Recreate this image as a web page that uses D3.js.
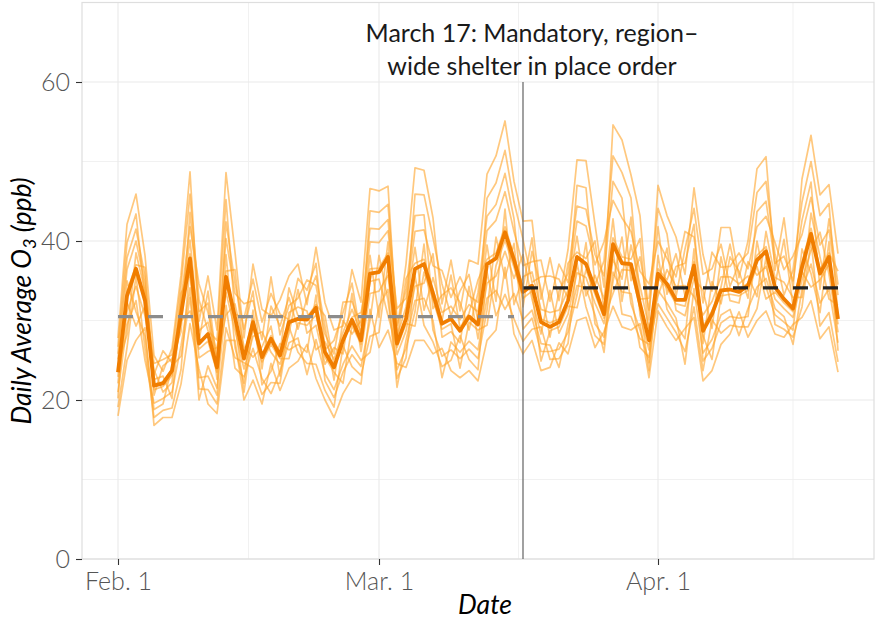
<!DOCTYPE html>
<html><head><meta charset="utf-8">
<script src="https://cdn.jsdelivr.net/npm/d3@7"></script>
<style>
html,body{margin:0;padding:0;background:#fff;}
svg{display:block;font-family:Lato,"Open Sans",sans-serif;}
</style></head>
<body><svg id="chart" width="886" height="634"></svg>
<script>
// ---------------- DATA ----------------
const startDate = "2020-02-01";           // first day of the series (81 daily values)
const tickDates = ["2020-02-01","2020-03-01","2020-04-01"];
const tickLabels = ["Feb. 1","Mar. 1","Apr. 1"];
const minorDates = ["2020-02-15T12:00","2020-03-16T12:00","2020-04-16T00:00"];
const yTicks = [0,20,40,60];
const yMinor = [10,30,50,70];
const orderDate = "2020-03-17";
const annotation = ["March 17: Mandatory, region\u2013","wide shelter in place order"];
const preMean = 30.5, postMean = 34.1;
const preRange = ["2020-02-01","2020-03-16"];
const postRange = ["2020-03-17","2020-04-21"];

// regional daily mean (thick line)
const meanO3 = [23.5,33.1,36.5,32.5,21.8,22.1,23.7,30.8,37.8,27.1,28.3,24.1,35.5,30.4,25.2,29.8,25.4,27.7,25.6,29.8,30.2,30.1,31.6,26.0,24.1,27.5,30.1,27.5,35.9,36.1,38.0,27.1,30.2,36.5,37.1,33.4,29.6,30.2,28.7,30.5,29.5,37.1,37.8,41.1,37.6,33.6,34.4,29.8,29.2,29.8,32.5,38.0,37.1,34.0,30.8,39.6,37.2,37.1,32.1,27.5,35.9,34.6,32.6,32.6,36.9,28.7,30.8,33.8,33.9,33.6,34.4,37.6,38.7,34.2,32.7,31.5,36.7,40.9,35.9,38.0,30.2];

// individual monitoring stations (thin lines)
const st01 = [27.8,42.1,45.9,38.2,25.6,23.6,26.5,35.7,48.7,29.9, 35.6,28.8,48.6,38.6,27.8,37.1,31.4,30.6,32.6,35.6, 37.1,32.0,39.2,32.2,28.8,29.3,36.4,32.3,46.6,46.3, 46.9,28.7,37.1,49.2,48.9,42.9,32.1,37.6,31.2,37.6, 37.1,48.4,50.7,55.1,47.5,42.5,42.6,32.7,37.9,32.5, 38.9,50.2,50.1,42.1,34.2,54.6,52.7,48.3,43.2,30.1, 47.0,43.2,40.5,35.8,46.7,38.3,33.7,41.7,41.7,35.4, 40.0,49.1,50.6,36.3,42.9,33.9,47.8,53.3,45.8,47.1,38.4];
const st02 = [26.7,39.8,43.4,32.8,24.6,25.1,25.7,34.4,45.9,32.6, 28.7,27.5,45.2,30.8,30.3,35.2,29.8,33.4,30.8,30.1, 35.3,33.8,37.2,26.3,27.5,31.0,34.7,27.8,43.8,43.6, 44.6,30.3,30.6,45.9,45.8,40.4,34.6,30.6,33.7,35.8, 29.9,45.4,47.3,51.4,44.9,40.2,34.8,35.5,35.6,35.2, 32.8,47.0,46.7,34.4,37.5,50.7,48.6,45.4,32.7,32.8, 44.1,40.9,33.0,39.0,44.1,35.8,36.5,39.6,34.3,37.2, 38.5,46.1,47.5,38.3,33.2,36.3,44.9,50.0,43.2,44.7,30.6];
const st03 = [25.8,37.9,41.5,35.5,20.6,24.3,25.2,28.6,43.6,31.1, 32.2,22.6,42.4,34.7,28.9,33.7,23.9,31.8,29.3,32.9, 28.9,32.8,35.6,29.3,22.5,30.0,28.3,30.0,41.6,41.5, 42.7,29.4,33.9,43.2,43.3,31.5,33.2,34.1,32.3,28.8, 33.5,43.1,44.6,48.5,42.8,31.7,38.7,33.9,27.9,33.7, 35.9,44.4,44.0,38.3,35.6,47.5,45.4,35.0,38.0,31.3, 41.8,33.3,36.8,37.2,42.1,27.1,34.9,32.1,38.0,36.2, 32.8,43.7,45.0,37.2,38.1,35.0,42.6,47.4,33.9,42.8,34.5];
const st04 = [25.1,36.4,40.0,34.6,23.2,26.2,24.7,32.6,41.8,34.6, 31.0,25.8,40.3,33.4,32.1,32.5,27.6,35.5,28.2,31.9, 32.8,35.1,34.4,28.3,25.8,32.3,32.4,29.3,39.9,39.8, 41.3,31.5,32.8,41.2,41.4,36.9,36.3,32.9,35.5,33.1, 32.3,41.3,42.6,46.2,41.2,36.9,37.4,37.6,32.4,37.1, 34.8,42.5,41.9,37.0,39.9,45.1,42.9,41.2,36.2,34.6, 40.0,37.8,35.5,41.2,40.5,32.2,38.6,36.7,36.8,38.5, 36.5,41.8,43.1,39.8,36.4,38.1,40.8,45.5,39.5,41.4,33.2];
const st05 = [24.4,28.2,38.5,33.7,22.6,23.0,20.2,31.8,40.1,28.7, 29.8,25.1,30.7,32.1,26.7,25.4,26.7,29.3,23.0,31.0, 31.7,31.2,26.3,27.3,25.1,28.5,31.4,28.5,38.2,30.4, 39.9,28.0,31.7,39.2,31.3,35.4,31.0,31.8,30.1,32.0, 31.1,39.5,32.4,44.0,32.0,35.5,36.1,31.4,31.0,31.3, 33.8,40.6,33.1,35.7,32.7,42.8,32.4,39.5,34.4,29.0, 33.1,36.4,34.3,34.4,33.0,30.7,32.4,35.5,35.5,34.6, 35.6,33.0,41.2,35.4,34.8,32.9,32.9,43.5,38.0,32.7,31.9];
const st06 = [23.7,33.6,37.0,36.7,22.0,22.3,23.8,31.1,38.4,27.5, 33.7,24.3,36.2,36.4,25.6,30.2,25.7,28.1,26.0,34.1, 30.6,30.4,32.0,30.6,24.3,27.8,30.4,31.0,36.5,36.6, 38.5,27.3,35.3,37.2,37.7,33.9,30.0,35.7,29.1,30.9, 35.1,37.7,38.5,41.8,38.1,34.1,40.4,30.2,29.7,30.2, 37.2,38.6,37.8,40.0,31.3,40.4,38.0,37.7,40.3,27.9, 36.5,35.1,38.4,33.1,37.4,29.2,31.2,34.2,39.6,33.9, 34.7,38.2,39.3,34.5,40.2,31.8,37.3,41.6,36.4,38.5,36.2];
const st07 = [22.9,32.3,29.3,31.8,21.3,21.7,23.1,29.9,31.2,26.4, 27.4,23.5,34.7,29.8,21.0,29.1,24.8,27.0,25.2,25.2, 29.7,29.4,30.7,25.4,23.5,22.1,29.4,27.0,34.9,35.2, 30.6,26.6,29.6,29.3,36.1,32.6,28.9,29.6,24.0,29.8, 28.8,29.4,36.9,40.1,36.7,32.8,33.7,24.9,28.7,29.2, 31.8,31.6,36.4,33.3,30.3,33.4,36.4,36.3,31.6,23.7, 35.4,34.1,32.1,31.8,36.3,28.1,25.1,33.1,33.3,33.1, 33.8,36.8,32.7,33.6,32.2,31.1,36.1,34.2,35.1,37.1,29.5];
const st08 = [22.1,31.1,34.3,30.6,23.8,21.0,22.2,33.4,35.8,25.3, 26.1,26.6,33.5,28.8,23.9,28.0,28.6,26.0,24.5,28.4, 33.9,28.4,29.4,24.5,26.6,25.8,33.4,26.1,33.4,33.7, 35.7,25.7,28.7,34.3,34.7,38.4,27.9,28.6,27.2,34.3, 27.7,34.7,35.6,38.7,35.3,38.3,32.7,28.3,33.8,28.4, 30.8,36.0,35.4,32.2,29.6,37.7,35.2,43.0,30.7,26.3, 34.7,39.1,31.3,30.6,35.3,33.8,29.0,38.0,32.5,32.2, 37.4,35.7,36.8,32.7,31.5,30.4,35.1,38.8,41.1,35.8,28.5];
const st09 = [21.0,29.5,32.5,25.0,19.6,20.2,21.0,26.8,34.1,20.0, 24.3,21.5,31.9,24.0,22.9,26.5,22.7,20.8,23.6,27.2, 27.8,23.2,27.6,23.3,21.3,24.5,26.8,25.0,26.0,31.8, 33.9,21.6,27.5,32.5,32.8,30.0,22.8,27.3,26.0,27.4, 26.3,32.8,33.8,31.4,33.4,30.1,31.3,27.1,26.9,24.1, 29.5,34.4,34.1,30.7,26.0,36.1,33.6,33.4,26.6,25.4, 33.8,32.2,30.3,24.5,34.0,25.9,27.6,30.7,31.4,28.1, 31.5,34.2,35.3,31.5,30.5,27.0,33.9,37.1,32.2,34.0,27.2];
const st10 = [20.2,35.0,31.1,28.0,18.8,19.5,24.3,25.5,32.9,22.8, 23.0,20.6,38.3,26.6,22.1,31.3,21.9,23.6,27.1,26.3, 27.0,26.0,33.2,22.4,20.3,23.5,25.7,24.2,30.0,38.2, 32.5,23.8,26.5,31.1,39.6,28.8,25.5,26.3,25.2,26.4, 25.2,31.3,40.5,35.3,39.7,28.9,30.3,26.1,26.1,26.4, 28.5,33.2,39.8,29.6,27.9,34.9,40.5,32.1,28.8,24.7, 38.2,31.4,29.5,27.7,39.0,24.9,26.5,29.7,30.5,30.3, 30.5,40.0,34.2,30.7,29.8,28.8,39.0,35.9,31.0,39.9,26.2];
const st11 = [19.1,26.6,35.6,26.5,17.8,18.7,19.0,23.8,37.0,21.4, 21.3,19.5,29.1,25.3,24.7,24.0,20.7,22.2,22.1,29.2, 26.0,24.6,24.5,21.2,19.1,26.8,24.2,23.1,28.0,28.5, 37.1,22.7,25.3,35.6,29.4,27.3,24.2,25.0,28.1,25.1, 23.8,36.1,30.6,33.3,30.2,27.4,28.9,29.2,25.1,25.2, 27.1,37.2,31.7,28.1,27.0,38.8,30.8,30.5,27.7,27.0, 32.1,30.3,28.5,26.1,31.7,23.7,30.1,28.4,29.4,29.2, 29.2,31.5,37.9,29.5,28.9,27.9,31.7,40.1,29.3,31.0,24.8];
const st12 = [18.0,25.0,27.5,29.1,16.8,17.8,17.8,22.0,29.6,23.9, 19.5,18.3,27.5,27.5,20.0,22.5,19.5,24.6,21.2,24.0, 24.9,27.0,22.7,20.0,17.8,20.8,22.7,22.0,31.4,26.6, 28.8,24.6,24.1,27.5,27.5,25.8,26.5,23.7,22.8,23.7, 22.4,27.5,28.8,36.7,28.3,25.8,27.5,23.7,24.1,27.2, 25.8,30.0,30.4,26.6,28.6,31.8,29.2,28.8,29.6,22.8, 31.2,29.2,27.5,29.0,30.4,22.4,23.7,27.0,28.3,31.1, 27.9,30.0,31.2,28.3,27.9,29.5,30.4,32.5,27.7,29.2,23.5];
const stations = [st01,st02,st03,st04,st05,st06,st07,st08,st09,st10,st11,st12];

// ---------------- CHART ----------------
const parse = s => new Date(s.length > 10 ? s : s + "T00:00");
const t0 = parse(startDate);
const dateOf = i => d3.timeDay.offset(t0, i);

const svg = d3.select("#chart");
const L = 82, R = 874, T = 2.5, B = 559;
const x = d3.scaleTime().domain([parse("2020-01-28"), parse("2020-04-25")]).range([L, R]);
const y = d3.scaleLinear().domain([0, 70]).range([B, T]);

// grid
const g = svg.append("g");
g.selectAll(".ymin").data(yMinor).join("line")
  .attr("x1", L).attr("x2", R).attr("y1", d => y(d)).attr("y2", d => y(d))
  .attr("stroke", "#efefef").attr("stroke-width", 0.9);
g.selectAll(".xmin").data(minorDates.map(parse)).join("line")
  .attr("x1", d => x(d)).attr("x2", d => x(d)).attr("y1", T).attr("y2", B)
  .attr("stroke", "#efefef").attr("stroke-width", 0.9);
g.selectAll(".ymaj").data(yTicks).join("line")
  .attr("x1", L).attr("x2", R).attr("y1", d => y(d)).attr("y2", d => y(d))
  .attr("stroke", "#e9e9e9").attr("stroke-width", 1.1);
g.selectAll(".xmaj").data(tickDates.map(parse)).join("line")
  .attr("x1", d => x(d)).attr("x2", d => x(d)).attr("y1", T).attr("y2", B)
  .attr("stroke", "#e9e9e9").attr("stroke-width", 1.1);
// panel border
svg.append("rect").attr("x", L).attr("y", T).attr("width", R - L).attr("height", B - T)
  .attr("fill", "none").attr("stroke", "#dedede").attr("stroke-width", 1.2);

// axes
const xAxis = d3.axisBottom(x).tickValues(tickDates.map(parse))
  .tickFormat((d, i) => tickLabels[i]).tickSize(6).tickPadding(7);
const gx = svg.append("g").attr("transform", `translate(0,${B})`).call(xAxis);
const yAxis = d3.axisLeft(y).tickValues(yTicks).tickSize(6).tickPadding(6);
const gy = svg.append("g").attr("transform", `translate(${L},0)`).call(yAxis);
[gx, gy].forEach(a => {
  a.select(".domain").remove();
  a.selectAll(".tick line").attr("stroke", "#333").attr("stroke-width", 1.1);
  a.selectAll(".tick text").attr("fill", "#555").style("font-size", "25px")
    .style("font-weight", 300).style("font-family", "Lato, sans-serif");
});

// station lines
const line = d3.line().x((d, i) => x(dateOf(i))).y(d => y(d));
svg.append("g").selectAll("path").data(stations).join("path")
  .attr("d", line).attr("fill", "none")
  .attr("stroke", "#ffa428").attr("stroke-opacity", 0.6).attr("stroke-width", 1.7)
  .attr("stroke-linejoin", "round");

// mean line
svg.append("path").datum(meanO3).attr("d", line).attr("fill", "none")
  .attr("stroke", "#f07d00").attr("stroke-width", 3.8).attr("stroke-linejoin", "round");

// period means (dashed)
svg.append("line").attr("x1", x(parse(preRange[0]))).attr("x2", x(parse(preRange[1])))
  .attr("y1", y(preMean)).attr("y2", y(preMean))
  .attr("stroke", "#8c8c8c").attr("stroke-width", 3.3).attr("stroke-dasharray", "15,15");
svg.append("line").attr("x1", x(parse(postRange[0]))).attr("x2", x(parse(postRange[1])))
  .attr("y1", y(postMean)).attr("y2", y(postMean))
  .attr("stroke", "#222").attr("stroke-width", 3.3).attr("stroke-dasharray", "15,15");

// shelter-in-place line
svg.append("line").attr("x1", x(parse(orderDate))).attr("x2", x(parse(orderDate)))
  .attr("y1", y(60)).attr("y2", B).attr("stroke", "#6e6e6e").attr("stroke-width", 1.3);

// annotation
const ann = svg.append("text").attr("text-anchor", "middle")
  .attr("fill", "#1a1a1a").style("font-size", "25px").style("font-family", "Lato, sans-serif");
annotation.forEach((s, i) => ann.append("tspan")
  .attr("x", x(d3.timeDay.offset(parse(orderDate), 1))).attr("y", 42 + i * 33).text(s));

// axis titles
svg.append("text").attr("x", 485).attr("y", 614).attr("text-anchor", "middle")
  .style("font-style", "italic").style("font-size", "26.5px").attr("fill", "#000").text("Date");
const yt = svg.append("text").attr("transform", "translate(31,301) rotate(-90)")
  .attr("text-anchor", "middle").style("font-style", "italic").style("font-size", "26.5px").attr("fill", "#000");
yt.append("tspan").text("Daily Average O");
yt.append("tspan").attr("dy", 5).style("font-size", "18px").text("3");
yt.append("tspan").attr("dy", -5).text(" (ppb)");
</script></body></html>
